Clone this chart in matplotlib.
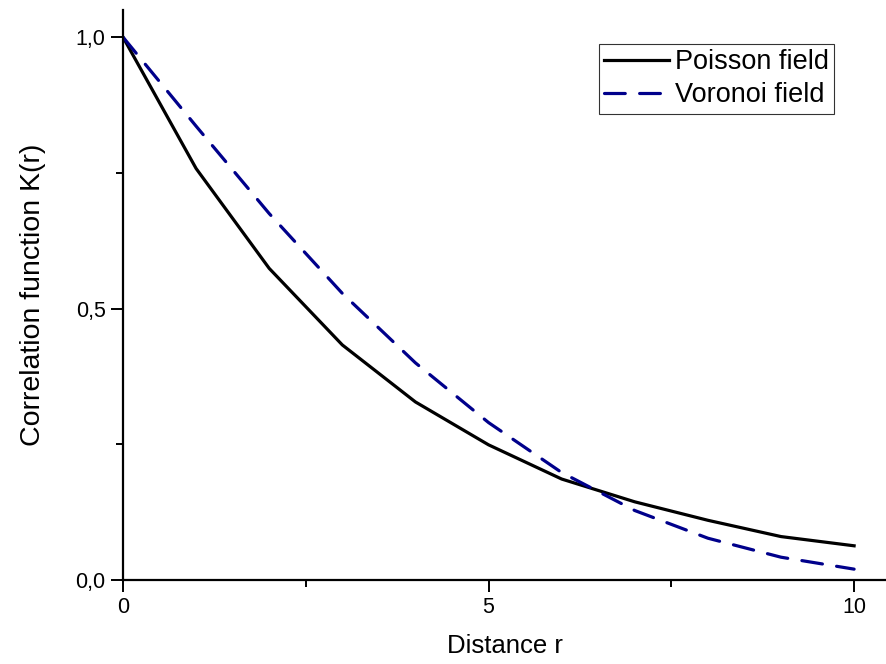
import matplotlib
matplotlib.use("Agg")
import matplotlib.pyplot as plt
from matplotlib.ticker import FixedLocator

plt.rcParams['font.family'] = ['Liberation Sans', 'DejaVu Sans']

r = [0, 1, 2, 3, 4, 5, 6, 7, 8, 9, 10]
poisson = [1.0, 0.758, 0.574, 0.433, 0.328, 0.249, 0.186, 0.144, 0.110, 0.080, 0.063]
voronoi = [1.0, 0.836, 0.675, 0.528, 0.400, 0.290, 0.198, 0.128, 0.077, 0.042, 0.020]

x_major = [0, 5, 10]
x_labels = ["0", "5", "10"]
y_major = [0.0, 0.5, 1.0]
y_labels = ["0,0", "0,5", "1,0"]

fig = plt.figure(figsize=(8.87, 6.64), dpi=100)
ax = fig.add_axes([123/887, 1-580/664, 1-123/887, (580-10)/664])

ax.plot(r, poisson, color='black', lw=2.3, label='Poisson field')
ax.plot(r, voronoi, color='#00008B', lw=2.3, ls=(0, (6.5, 4.5)), dash_capstyle='round',
        label='Voronoi field')

ax.set_xlim(0, 10.45)
ax.set_ylim(0, 1.05)
ax.spines['top'].set_visible(False)
ax.spines['right'].set_visible(False)
for s in ('left', 'bottom'):
    ax.spines[s].set_linewidth(1.6)

ax.xaxis.set_major_locator(FixedLocator(x_major))
ax.set_xticklabels(x_labels)
ax.yaxis.set_major_locator(FixedLocator(y_major))
ax.set_yticklabels(y_labels)
ax.xaxis.set_minor_locator(FixedLocator([2.5, 7.5]))
ax.yaxis.set_minor_locator(FixedLocator([0.25, 0.75]))
ax.tick_params(which='major', direction='out', length=8.5, width=1.4, labelsize=15.5, pad=4)
ax.tick_params(which='minor', direction='out', length=5, width=1.4)

ax.set_xlabel('Distance r', fontsize=18.5, labelpad=11)
ax.set_ylabel('Correlation function K(r)', fontsize=20.5, labelpad=21)

leg = ax.legend(loc='upper right', fontsize=19.5, frameon=True, fancybox=False,
                handlelength=2.4, handletextpad=0.2, borderpad=0.2, labelspacing=0.25,
                borderaxespad=0)
leg.get_frame().set_edgecolor('black')
leg.get_frame().set_linewidth(0.8)
leg.set_bbox_to_anchor((834/887, 1-44/664), transform=fig.transFigure)

fig.savefig('out.png', dpi=100)
